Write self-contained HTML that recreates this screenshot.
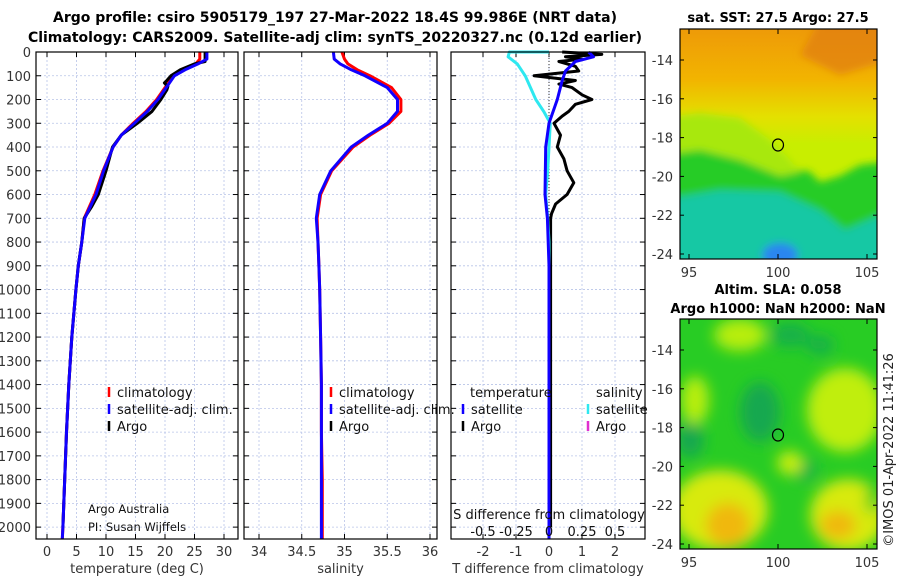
<!DOCTYPE html>
<html><head><meta charset="utf-8"><style>
html,body{margin:0;padding:0;background:#fff}
svg{display:block;font-family:"DejaVu Sans","Liberation Sans",sans-serif}
</style></head><body>
<svg id="fig" width="900" height="580" viewBox="0 0 900 580" xmlns="http://www.w3.org/2000/svg">
<defs>
<filter id="bl" x="-20%" y="-20%" width="140%" height="140%"><feGaussianBlur stdDeviation="4"/></filter>
<filter id="bl2" x="-20%" y="-20%" width="140%" height="140%"><feGaussianBlur stdDeviation="7"/></filter>
<clipPath id="c1"><rect x="680" y="29" width="197" height="230"/></clipPath>
<clipPath id="c2"><rect x="680" y="319" width="197" height="230"/></clipPath>
<linearGradient id="sstg" x1="0" y1="0" x2="0" y2="1">
<stop offset="0" stop-color="#ee9a08"/><stop offset="0.22" stop-color="#f2b400"/><stop offset="0.38" stop-color="#e4e000"/><stop offset="0.5" stop-color="#c8ee00"/><stop offset="1" stop-color="#c8ee00"/>
</linearGradient>
</defs>
<text x="335" y="22" text-anchor="middle" font-size="14" font-weight="bold">Argo profile: csiro 5905179_197 27-Mar-2022 18.4S 99.986E (NRT data)</text>
<text x="335" y="42" text-anchor="middle" font-size="14" font-weight="bold">Climatology: CARS2009. Satellite-adj clim: synTS_20220327.nc (0.12d earlier)</text>
<g id="p1"></g>
<g id="p2"></g>
<g id="p3"></g>

<g>
<text x="778" y="22" text-anchor="middle" font-size="13" font-weight="bold">sat. SST: 27.5 Argo: 27.5</text>
<g clip-path="url(#c1)">
<rect x="680" y="29" width="197" height="230" fill="url(#sstg)"/>
<g filter="url(#bl)">
<polygon points="820,20 890,20 890,60 840,75 800,55" fill="#e07c10" opacity="0.7"/>
<polygon points="660,150 700,148 740,140 760,150 790,168 810,172 820,182 840,176 860,165 900,160 900,300 660,300" fill="#28cc28"/>
<polygon points="660,118 700,113 740,118 770,140 790,160 800,172 780,176 740,160 700,150 660,155" fill="#a8e810"/>
<polygon points="660,200 720,190 780,192 820,210 845,230 880,215 900,210 900,300 660,300" fill="#12c8a4"/>
<ellipse cx="780" cy="255" rx="18" ry="12" fill="#2a86f0"/>
</g>
</g>
<rect x="680" y="29" width="197" height="230" fill="none" stroke="#000" stroke-width="1.2"/>
<ellipse cx="778" cy="145" rx="5.5" ry="6" fill="none" stroke="#000" stroke-width="1.2"/>
<g id="m1ticks"></g>
</g>

<g>
<text x="778" y="294" text-anchor="middle" font-size="13" font-weight="bold">Altim. SLA: 0.058</text>
<text x="778" y="313" text-anchor="middle" font-size="13" font-weight="bold">Argo h1000: NaN h2000: NaN</text>
<g clip-path="url(#c2)">
<rect x="680" y="319" width="197" height="230" fill="#28cc24"/>
<g filter="url(#bl2)">
<ellipse cx="760" cy="412" rx="20" ry="30" fill="#14a850"/>
<ellipse cx="690" cy="440" rx="14" ry="18" fill="#14a850"/>
<ellipse cx="790" cy="335" rx="20" ry="12" fill="#14b048"/>
<ellipse cx="820" cy="345" rx="14" ry="10" fill="#14b048"/>
<ellipse cx="805" cy="470" rx="12" ry="10" fill="#14b048"/>
<ellipse cx="740" cy="335" rx="26" ry="16" fill="#b8ee10"/>
<ellipse cx="695" cy="400" rx="14" ry="24" fill="#b8ee10"/>
<ellipse cx="790" cy="463" rx="13" ry="12" fill="#c8ee10"/>
<ellipse cx="845" cy="410" rx="38" ry="42" fill="#c0ee10"/>
<ellipse cx="720" cy="510" rx="48" ry="40" fill="#d8ea08"/>
<ellipse cx="728" cy="525" rx="22" ry="22" fill="#f0b808"/>
<ellipse cx="848" cy="515" rx="38" ry="36" fill="#d8ea08"/>
<ellipse cx="838" cy="525" rx="18" ry="14" fill="#f0b808"/>
<ellipse cx="872" cy="500" rx="6" ry="14" fill="#30cc20"/>
</g>
</g>
<rect x="680" y="319" width="197" height="230" fill="none" stroke="#000" stroke-width="1.2"/>
<ellipse cx="778" cy="435" rx="5.5" ry="6" fill="none" stroke="#000" stroke-width="1.2"/>
<g id="m2ticks"></g>
</g>
<text transform="translate(893,450) rotate(-90)" text-anchor="middle" font-size="13" fill="#222">©IMOS 01-Apr-2022 11:41:26</text>
</svg>
<script>
const depthTicks=[0,100,200,300,400,500,600,700,800,900,1000,1100,1200,1300,1400,1500,1600,1700,1800,1900,2000];
const tempTicks=[0,5,10,15,20,25,30];
const salTicks=[34,34.5,35,35.5,36];
const salTickLabels=["34","34.5","35","35.5","36"];
const tdiffTicks=[-2,-1,0,1,2];
const sdiffTicks=[-0.5,-0.25,0,0.25,0.5];
const sdiffTickLabels=["-0.5","-0.25","0","0.25","0.5"];

const climDepth=[0,30,50,75,100,150,200,250,300,350,400,500,600,700,800,900,1000,1200,1400,1600,1800,2000,2050];
const climTemp=[25.9,25.9,25.2,23.2,21.4,20.0,18.6,16.8,14.6,12.6,11.2,9.5,8.1,6.3,5.9,5.3,4.9,4.2,3.7,3.3,3.0,2.7,2.6];
const satTemp=[27.1,27.1,25.6,23.4,21.6,20.2,18.8,17.0,14.8,12.6,11.2,9.6,8.3,6.4,5.9,5.3,4.9,4.2,3.7,3.3,3.0,2.7,2.6];
const argoDepth=[0,40,50,75,100,120,130,145,160,200,250,300,350,400,500,600,650,700,800,900,1000,1200,1400,1600,1800,2000];
const argoTemp=[26.8,26.8,25.0,22.6,21.0,20.3,19.9,20.5,20.3,19.3,17.8,15.3,12.6,11.1,10.0,8.7,7.6,6.3,5.9,5.3,4.9,4.2,3.7,3.3,3.0,2.7];

const climSal=[34.97,35.0,35.04,35.15,35.3,35.55,35.66,35.66,35.52,35.3,35.1,34.85,34.72,34.68,34.69,34.70,34.71,34.72,34.73,34.73,34.74,34.74,34.74];
const satSal=[34.87,34.88,34.95,35.08,35.24,35.5,35.62,35.62,35.5,35.28,35.08,34.84,34.71,34.67,34.69,34.70,34.71,34.72,34.73,34.73,34.73,34.73,34.73];

const diffDepth=[0,20,40,80,120,200,300,400,600,700,900,2050];
const satTdiff=[1.2,1.35,0.8,0.5,0.4,0.25,0.0,-0.1,-0.12,-0.05,0.0,0.0];
const satSdiffDepth=[0,0,20,50,100,150,200,250,300,400,500,600,700,800,1000,2050];
const satSdiff=[0,-0.3,-0.31,-0.24,-0.18,-0.14,-0.1,-0.04,0.01,0,-0.01,-0.025,-0.01,0,0,0];
const argoDiffDepth=[0,10,20,30,40,60,80,100,120,135,150,180,200,220,250,270,300,350,400,450,500,550,600,640,680,700,800,1000,1500,2000];
const argoTdiff=[0.4,1.6,0.5,1.0,0.3,0.8,0.9,-0.45,0.8,0.3,0.7,1.0,1.3,0.8,0.6,0.4,0.15,0.35,0.25,0.45,0.55,0.75,0.55,0.2,0.08,0.05,0.05,0.05,0.05,0.05];

const lonTicks=[95,100,105];
const latTicks=[-14,-16,-18,-20,-22,-24];

const NS="http://www.w3.org/2000/svg";
function mk(parent,tag,attrs,text){const e=document.createElementNS(NS,tag);for(const k in attrs)e.setAttribute(k,attrs[k]);if(text!==undefined)e.textContent=text;parent.appendChild(e);return e;}
const Y0=52,Y1=539;
function yD(d){return Y0+d*(Y1-Y0)/2050;}
function lin(a,b,pa,pb){return v=>pa+(v-a)*(pb-pa)/(b-a);}

function panel(g,x0,x1,xs,xt,xtl,title,name){
  depthTicks.forEach(d=>{const l=mk(g,'line',{x1:x0,x2:x1,y1:yD(d),y2:yD(d),stroke:'#b8c4e8','stroke-width':0.8,'stroke-dasharray':'2,2'});
    
    
    mk(g,'line',{x1:x0,x2:x0+5,y1:yD(d),y2:yD(d),stroke:'#000'});
    mk(g,'line',{x1:x1-5,x2:x1,y1:yD(d),y2:yD(d),stroke:'#000'});});
  xt.forEach((v,i)=>{const x=xs(v);
    const l=mk(g,'line',{x1:x,x2:x,y1:Y0,y2:Y1,stroke:'#b8c4e8','stroke-width':0.8,'stroke-dasharray':'2,2'});
    
    
    mk(g,'line',{x1:x,x2:x,y1:Y1-5,y2:Y1,stroke:'#000'});
    mk(g,'line',{x1:x,x2:x,y1:Y0,y2:Y0+5,stroke:'#000'});
    const t=mk(g,'text',{x:x,y:556,'text-anchor':'middle','font-size':13,fill:'#333'},xtl[i]);
    
    });
  const t=mk(g,'text',{x:(x0+x1)/2,y:573,'text-anchor':'middle','font-size':13,fill:'#333'},title);
  
  
}
function frame(g,x0,x1){mk(g,'rect',{x:x0,y:Y0,width:x1-x0,height:Y1-Y0,fill:'none',stroke:'#000','stroke-width':1.2});}
function line(g,xs,vals,depths,col,w,name){
  const pts=vals.map((v,i)=>xs(v).toFixed(1)+','+yD(depths[i]).toFixed(1)).join(' ');
  const p=mk(g,'polyline',{points:pts,fill:'none',stroke:col,'stroke-width':w,'stroke-linejoin':'round'});
  
  
}
function legend(g,x,y,col,label,name){
  mk(g,'line',{x1:x,x2:x,y1:y-10,y2:y,stroke:col,'stroke-width':2.5});
  const t=mk(g,'text',{x:x+8,y:y,'font-size':13,fill:'#111'},label);
  
  
}

const g1=document.getElementById('p1');
const xT=lin(0,30,47,224);
panel(g1,36,238,xT,tempTicks,tempTicks.map(String),'temperature (deg C)','temperature');
depthTicks.forEach(d=>{const t=mk(g1,'text',{x:31,y:yD(d)+5,'text-anchor':'end','font-size':13,fill:'#333'},String(d));
  
  });
line(g1,xT,climTemp,climDepth,'#f00',3,'temperature-climatology-line');
line(g1,xT,argoTemp,argoDepth,'#000',3,'temperature-argo-line');
line(g1,xT,satTemp,climDepth,'#10f',3,'temperature-satellite-line');
legend(g1,109,397,'#f00','climatology','legend-climatology');
legend(g1,109,414,'#10f','satellite-adj. clim.','legend-satellite');
legend(g1,109,431,'#000','Argo','legend-argo');
mk(g1,'text',{x:88,y:513,'font-size':11.5,fill:'#111'},'Argo Australia');
mk(g1,'text',{x:88,y:531,'font-size':11.5,fill:'#111'},'PI: Susan Wijffels');
frame(g1,36,238);

const g2=document.getElementById('p2');
const xS=lin(34,36,259,430);
panel(g2,244,437,xS,salTicks,salTickLabels,'salinity','salinity');
line(g2,xS,climSal,climDepth,'#f00',3,'salinity-climatology-line');
line(g2,xS,satSal,climDepth,'#10f',3,'salinity-satellite-line');
legend(g2,331,397,'#f00','climatology','legend-climatology-sal');
legend(g2,331,414,'#10f','satellite-adj. clim.','legend-satellite-sal');
legend(g2,331,431,'#000','Argo','legend-argo-sal');
frame(g2,244,437);

const g3=document.getElementById('p3');
const xD=lin(-2,2,483,615);
const xSD=lin(-0.5,0.5,483,615);
panel(g3,451,645,xD,tdiffTicks,tdiffTicks.map(String),'T difference from climatology','tdiff');
mk(g3,'line',{x1:xD(0),x2:xD(0),y1:Y0,y2:Y1,stroke:'#333','stroke-width':1,'stroke-dasharray':'1,2'});
line(g3,xD,argoTdiff,argoDiffDepth,'#000',3,'argo-tdiff-line');
line(g3,xSD,satSdiff,satSdiffDepth,'#2ee8f0',3,'satellite-sdiff-line');
line(g3,xD,satTdiff,diffDepth,'#10f',3,'satellite-tdiff-line');
mk(g3,'text',{x:470,y:397,'font-size':13,fill:'#111'},'temperature');
mk(g3,'text',{x:596,y:397,'font-size':13,fill:'#111'},'salinity');
legend(g3,463,414,'#10f','satellite','legend-tdiff-satellite');
legend(g3,463,431,'#000','Argo','legend-tdiff-argo');
legend(g3,588,414,'#2ee8f0','satellite','legend-sdiff-satellite');
legend(g3,588,431,'#e030d0','Argo','legend-sdiff-argo');
const st=mk(g3,'text',{x:549,y:519,'text-anchor':'middle','font-size':13,fill:'#111'},'S difference from climatology');


sdiffTicks.forEach((v,i)=>{const t=mk(g3,'text',{x:xSD(v),y:536,'text-anchor':'middle','font-size':13,fill:'#111'},sdiffTickLabels[i]);
  
  });
frame(g3,451,645);

function mapTicks(id,top,lat14){
  const g=document.getElementById(id);
  const xl=lin(100,105,778,867);
  const yl=v=>lat14+(-14-v)*19.4;
  lonTicks.forEach(v=>{mk(g,'line',{x1:xl(v),x2:xl(v),y1:top+230,y2:top+225,stroke:'#000'});
    mk(g,'line',{x1:xl(v),x2:xl(v),y1:top,y2:top+5,stroke:'#000'});
    const t=mk(g,'text',{x:xl(v),y:top+248,'text-anchor':'middle','font-size':13,fill:'#333'},String(v));
    
    });
  latTicks.forEach(v=>{const y=yl(v);
    mk(g,'line',{x1:680,x2:684,y1:y,y2:y,stroke:'#000'});
    mk(g,'line',{x1:873,x2:877,y1:y,y2:y,stroke:'#000'});
    const t=mk(g,'text',{x:673,y:y+5,'text-anchor':'end','font-size':13,fill:'#333'},String(v));
    
    });
}
mapTicks('m1ticks',29,60);
mapTicks('m2ticks',319,350);
</script>
</body></html>
